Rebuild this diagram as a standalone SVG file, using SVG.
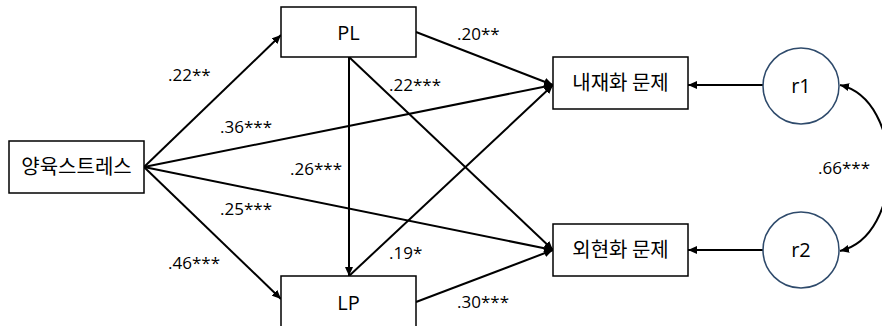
<svg xmlns="http://www.w3.org/2000/svg" width="882" height="326" viewBox="0 0 882 326">
<defs>
<style>
.box{fill:#fff;stroke:#000;stroke-width:1.5}
.circ{fill:#fff;stroke:#2E4A6B;stroke-width:1.5}
.lbl{font-family:"Open Sans","Noto Sans CJK KR",sans-serif;font-size:20px;fill:#000;text-anchor:middle}
.kr{font-family:"Noto Sans CJK KR","Open Sans",sans-serif;font-size:20px;fill:#000;text-anchor:middle}
.coef{font-family:"Open Sans","Noto Sans CJK KR",sans-serif;font-size:17px;fill:#000}
.ln{stroke:#000;stroke-width:2;fill:none;marker-end:url(#ah)}
</style>
<marker id="ah" markerUnits="userSpaceOnUse" markerWidth="10" markerHeight="8" refX="9" refY="4" orient="auto">
<path d="M0,0 L9,4 L0,8 Z" fill="#000"/>
</marker>
<marker id="ahs" markerUnits="userSpaceOnUse" markerWidth="10" markerHeight="8" refX="9" refY="4" orient="auto-start-reverse">
<path d="M0,0 L9,4 L0,8 Z" fill="#000"/>
</marker>
</defs>
<rect width="882" height="326" fill="#fff"/>
<g id="connectors">
<line class="ln" x1="144" y1="167" x2="281" y2="35"/>
<line class="ln" x1="144" y1="167" x2="553" y2="85"/>
<line class="ln" x1="144" y1="167" x2="553" y2="250"/>
<line class="ln" x1="144" y1="167" x2="281" y2="299"/>
<line class="ln" x1="416" y1="32" x2="553" y2="85"/>
<line class="ln" x1="349" y1="57" x2="349" y2="276"/>
<line class="ln" x1="349" y1="57" x2="553" y2="250"/>
<line class="ln" x1="349" y1="276" x2="553" y2="85"/>
<line class="ln" x1="416" y1="302" x2="553" y2="250"/>
<line class="ln" x1="763" y1="85" x2="688" y2="85"/>
<line class="ln" x1="763" y1="250" x2="688" y2="250"/>
<path d="M840,85 C905,100 905,236 840,251" stroke="#000" stroke-width="2" fill="none" marker-start="url(#ahs)" marker-end="url(#ahs)"/>
</g>
<g id="labels">
<text class="coef" x="168" y="81">.22**</text>
<text class="coef" x="220" y="133">.36***</text>
<text class="coef" x="389" y="91">.22***</text>
<text class="coef" x="290" y="175">.26***</text>
<text class="coef" x="220" y="215">.25***</text>
<text class="coef" x="168" y="269">.46***</text>
<text class="coef" x="389" y="259">.19*</text>
<text class="coef" x="457" y="40">.20**</text>
<text class="coef" x="457" y="308">.30***</text>
<text class="coef" x="818" y="174">.66***</text>
</g>
<g id="node-stress">
<rect class="box" x="9" y="141" width="135" height="52"/>
<text class="kr" x="76.5" y="174">양육스트레스</text>
</g>
<g id="node-PL">
<rect class="box" x="281" y="7" width="135" height="50"/>
<text class="lbl" x="348.5" y="40">PL</text>
</g>
<g id="node-LP">
<rect class="box" x="281" y="276" width="135" height="54"/>
<text class="lbl" x="348.5" y="310">LP</text>
</g>
<g id="node-internal">
<rect class="box" x="553" y="57" width="135" height="52"/>
<text class="kr" x="620.5" y="90">내재화 문제</text>
</g>
<g id="node-external">
<rect class="box" x="553" y="224" width="135" height="52"/>
<text class="kr" x="620.5" y="257">외현화 문제</text>
</g>
<g id="node-r1">
<circle class="circ" cx="801" cy="86" r="38"/>
<text class="lbl" x="801" y="93">r1</text>
</g>
<g id="node-r2">
<circle class="circ" cx="801" cy="250" r="38"/>
<text class="lbl" x="801" y="257">r2</text>
</g>
</svg>
